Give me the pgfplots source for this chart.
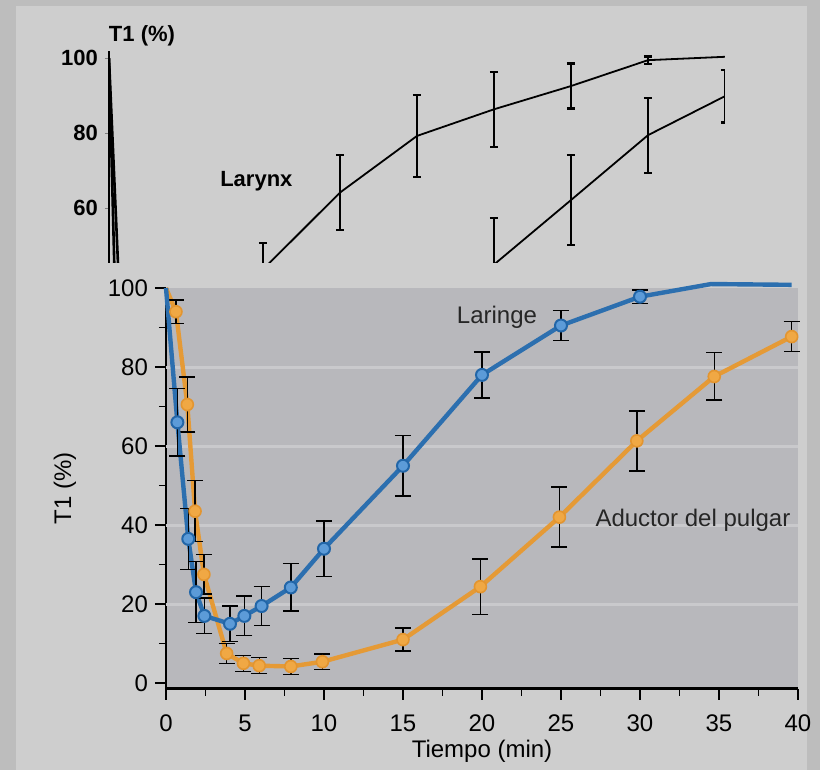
\documentclass[border=0pt]{standalone}
\usepackage{fontspec}
\setmainfont{Liberation Sans}
\usepackage{pgfplots}
\usepackage{pgfplotstable}
\pgfplotsset{compat=1.18}

\definecolor{framec}{HTML}{BDBDBD}
\definecolor{panelc}{HTML}{CECECE}
\definecolor{plotbg}{HTML}{B8B8BC}
\definecolor{gridc}{HTML}{C9C9CC}
\definecolor{bluel}{HTML}{2C6FAF}
\definecolor{bluef}{HTML}{5C9BD8}
\definecolor{blued}{HTML}{2266A8}
\definecolor{orl}{HTML}{E59A36}
\definecolor{orf}{HTML}{F0A844}
\definecolor{ord}{HTML}{E39530}

% upper (old) figure: larynx and adductor, black
\pgfplotstableread{
t v e
10 43.7 7
15 64.2 10
20 79.3 11
25 86.4 10
30 92.6 6
35 99.5 1
}\larynx
\pgfplotstableread{
t v e
25 45 12.5
30 62.2 12
35 79.5 10
40 89.9 7
}\adductor

% lower figure
\pgfplotstableread{
t v e
0.72 66 8.5
1.41 36.5 7.7
1.9 23 7.7
2.43 17 4.5
4.05 15 4.5
4.96 17 5
6.05 19.5 5
7.9 24.2 6
10 34 7
15 55 7.7
20 78 5.8
25 90.5 3.8
30 97.8 1.7
}\laringe
\pgfplotstableread{
t v e
0.63 94 3
1.35 70.5 7
1.84 43.5 7.7
2.4 27.5 5
3.84 7.5 2.5
4.9 5 2
5.9 4.4 2
7.9 4.2 2
9.9 5.4 2
15 11 2.9
19.9 24.4 7
24.9 42 7.6
29.8 61.3 7.6
34.7 77.6 6
39.6 87.7 3.8
}\aductor

\pgfplotsset{
  oldline/.style={black, line width=0.9pt},
  olderr/.style={error bars/.cd, y dir=both, y explicit,
    error bar style={black, line width=1.1pt},
    error mark options={rotate=90, black, line width=1.1pt, mark size=2pt}},
  newerr/.style={error bars/.cd, y dir=both, y explicit,
    error bar style={draw=black, line width=0.7pt},
    error mark options={rotate=90, draw=black, line width=0.7pt, mark size=4pt}},
}

\begin{document}
\begin{tikzpicture}
\fill[framec] (0,0) rectangle (410pt,385pt);
\fill[panelc] (8pt,0) rectangle (403.5pt,382pt);

\begin{axis}[
  at={(54.5pt,253.65pt)}, anchor=south west,
  scale only axis, width=308pt, height=105.95pt,
  xmin=0, xmax=40, ymin=45.5, ymax=102,
  axis x line=none, axis y line*=left,
  y axis line style={line width=0.9pt},
  ytick={60,80,100},
  tick align=outside, major tick length=2pt,
  /pgf/number format/assume math mode=true,
  yticklabel style={font=\fontsize{11}{13}\selectfont\bfseries},
  ylabel={T1 (\%)},
  every axis y label/.style={at={(axis description cs:0,1)}, anchor=center,
    xshift=16.5pt, yshift=7.4pt, font=\fontsize{11}{13}\selectfont\bfseries},
]
\addplot[oldline, olderr] table[x=t, y=v, y error=e] {\larynx};
\addplot[oldline, line width=1.3pt] coordinates {(0,100) (0.5,20)};
\addplot[oldline] coordinates {(35,99.5) (40,100.4)};
\addplot[oldline, olderr] table[x=t, y=v, y error=e] {\adductor};
\addplot[oldline, line width=1.3pt] coordinates {(0,100) (0.8,25)};
\node[font=\fontsize{11}{13}\selectfont\bfseries] at (axis cs:9.57,67.3) {Larynx};
\end{axis}

\begin{axis}[
  at={(83pt,40.5pt)}, anchor=south west,
  scale only axis, width=316pt, height=200.5pt,
  xmin=0, xmax=40, ymin=-1.5, ymax=100,
  clip=false,
  axis x line*=bottom, axis y line*=left,
  x axis line style={line width=1.5pt},
  y axis line style={line width=1pt},
  axis background/.style={fill=plotbg},
  xtick={0,5,...,40}, ytick={0,20,...,100},
  minor x tick num=1, minor y tick num=1,
  tick align=outside, major tick length=5.5pt, minor tick length=3.5pt,
  tick style={black, line width=0.9pt},
  extra y ticks={20,40,60,80}, extra y tick labels={},
  extra y tick style={grid=major, major grid style={gridc, line width=1.5pt}, major tick length=0pt},
  /pgf/number format/assume math mode=true,
  tick label style={font=\fontsize{12}{14}\selectfont},
  xticklabel style={yshift=-4pt},
  xlabel={Tiempo (min)}, ylabel={T1 (\%)},
  every axis x label/.style={at={(axis description cs:0.5,0)}, anchor=center,
    yshift=-31pt, font=\fontsize{12}{14}\selectfont},
  every axis y label/.style={at={(axis description cs:0,0.5)}, anchor=center,
    rotate=90, yshift=50.5pt, font=\fontsize{12}{14}\selectfont},
]
\addplot[draw=orl, line width=2.2pt] coordinates {(0,100) (0.63,94)};
\addplot[draw=orl, line width=2.2pt, mark=*, mark size=3pt,
  mark options={fill=orf, draw=ord, line width=0.8pt}]
  table[x=t, y=v] {\aductor};
\addplot[draw=none, forget plot, newerr] table[x=t, y=v, y error=e] {\aductor};
\addplot[draw=bluel, line width=2.2pt] coordinates {(0,100) (0.72,66)};
\addplot[draw=bluel, line width=2.2pt] coordinates {(30,97.8) (34.5,101) (39.6,100.8)};
\addplot[draw=bluel, line width=2.2pt, mark=*, mark size=3pt,
  mark options={fill=bluef, draw=blued, line width=1pt}]
  table[x=t, y=v] {\laringe};
\addplot[draw=none, forget plot, newerr] table[x=t, y=v, y error=e] {\laringe};
\node[font=\fontsize{12}{14}\selectfont, text=black!85] at (axis cs:20.95,92.7) {Laringe};
\node[font=\fontsize{12}{14}\selectfont, text=black!85] at (axis cs:33.35,41.3) {Aductor del pulgar};
\end{axis}
\end{tikzpicture}
\end{document}
